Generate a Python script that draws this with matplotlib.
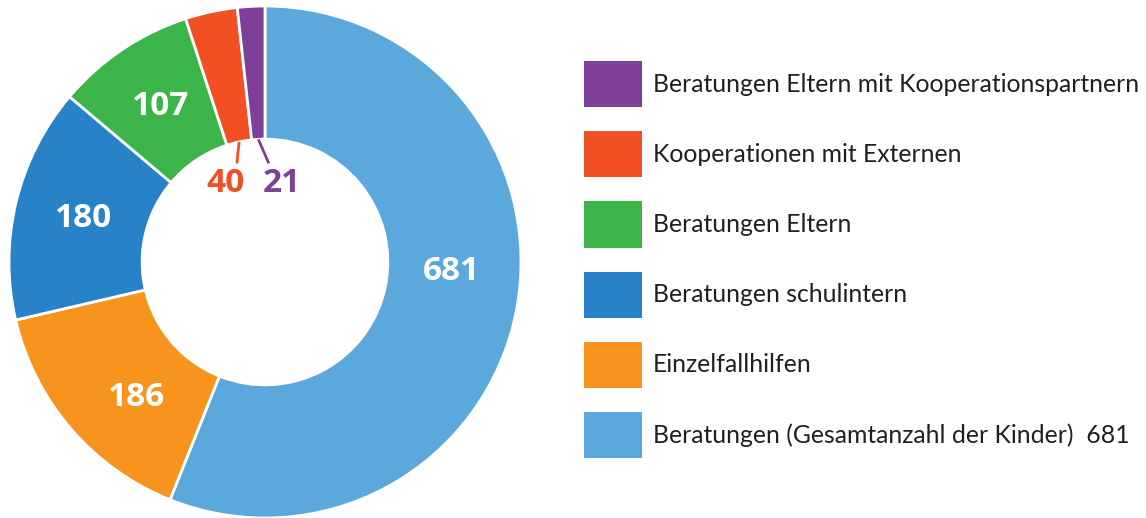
import numpy as np
import matplotlib.pyplot as plt

# data (clockwise from 12 o'clock)
labels = [
    "Beratungen (Gesamtanzahl der Kinder)  681",
    "Einzelfallhilfen",
    "Beratungen schulintern",
    "Beratungen Eltern",
    "Kooperationen mit Externen",
    "Beratungen Eltern mit Kooperationspartnern",
]
values = [681, 186, 180, 107, 40, 21]
colors = ["#5BA8DC", "#F7941E", "#2882C7", "#3BB54A", "#F05024", "#7D3F97"]

plt.rcParams['font.family'] = ['Lato', 'DejaVu Sans']

fig = plt.figure(figsize=(11.46, 5.18), dpi=100)
ax = fig.add_axes([9 / 1146, 0.0, 512 / 1146, 512 / 518])

wedges, _ = ax.pie(values, colors=colors, startangle=90, counterclock=False,
                   radius=1.0, wedgeprops=dict(width=0.52, edgecolor="white", linewidth=2))
ax.set_xlim(-1, 1)
ax.set_ylim(-1, 1)
ax.set_aspect("equal")

total = sum(values)
start = 90.0
for i, v in enumerate(values):
    mid = np.deg2rad(start - 360 * v / total / 2)
    start -= 360 * v / total
    if v >= 100:
        r = 0.73
        if i == 0:
            mid += np.deg2rad(8)   # big slice label sits a bit higher
        if i == 1:
            mid += np.deg2rad(6)
        x, y = r * np.cos(mid), r * np.sin(mid)
        ax.text(x, y, str(v), color="white", fontsize=24, fontweight="bold",
                family=["Open Sans", "DejaVu Sans"], ha="center", va="center")
    else:
        # small slices: number inside the hole with a short leader line
        x0, y0 = 0.48 * np.cos(mid), 0.48 * np.sin(mid)
        tx = -0.155 if v == 40 else 0.065
        ax.plot([x0, tx + (0.045 if v == 40 else -0.05)], [y0, 0.385],
                color=colors[i], lw=2, solid_capstyle="butt")
        ax.text(tx, 0.305, str(v), color=colors[i], fontsize=24, fontweight="bold",
                family=["Open Sans", "DejaVu Sans"], ha="center", va="center")

leg = fig.legend(wedges[::-1], labels[::-1], loc="upper left",
                 bbox_to_anchor=(584 / 1146, 1 - 61 / 518), frameon=False,
                 fontsize=17.8, handlelength=2.35, handleheight=2.5,
                 labelspacing=0.97, handletextpad=0.45, borderpad=0,
                 borderaxespad=0)
for t in leg.get_texts():
    t.set_color("#231F20")
for h in leg.legend_handles:
    h.set_edgecolor("none")

fig.savefig("out.png", dpi=100)
